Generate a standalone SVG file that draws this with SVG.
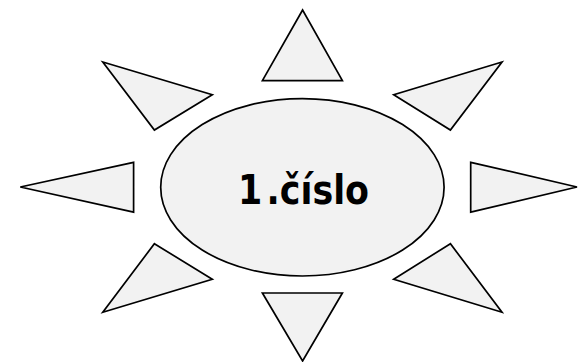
<svg xmlns="http://www.w3.org/2000/svg" width="578" height="362" viewBox="0 0 578 362">
<style>
.s{fill:#f2f2f2;stroke:#000;stroke-width:1.7;stroke-linejoin:miter}
.t{font-family:"DejaVu Sans","Liberation Sans",sans-serif;font-weight:bold;font-size:40px;fill:#000}
</style>
<rect width="578" height="362" fill="#fff"/>
<g id="ray-top"><polygon class="s" points="302.6,10 262.4,80.7 342.4,80.7"/></g>
<g id="ray-upper-left"><polygon class="s" points="102.8,62 212.3,94.7 154.4,130"/></g>
<g id="ray-upper-right"><polygon class="s" points="502,62 393.7,94.7 450.4,130"/></g>
<g id="ray-left"><polygon class="s" points="20.3,187 133.6,162.3 133.6,212.2"/></g>
<g id="ray-right"><polygon class="s" points="577,187 470.7,162.3 470.7,212.2"/></g>
<g id="ray-lower-left"><polygon class="s" points="154.4,243.7 212.3,279.3 102.8,312.3"/></g>
<g id="ray-lower-right"><polygon class="s" points="450.4,243.7 393.7,279.3 502,312.3"/></g>
<g id="ray-bottom"><polygon class="s" points="262.4,293 342.4,293 302.6,361"/></g>
<g id="center">
<ellipse class="s" cx="302.4" cy="187.3" rx="141.7" ry="88.7"/>
<text class="t" x="238" y="204" textLength="131" lengthAdjust="spacingAndGlyphs">1<tspan dx="5">.číslo</tspan></text>
</g>
</svg>
